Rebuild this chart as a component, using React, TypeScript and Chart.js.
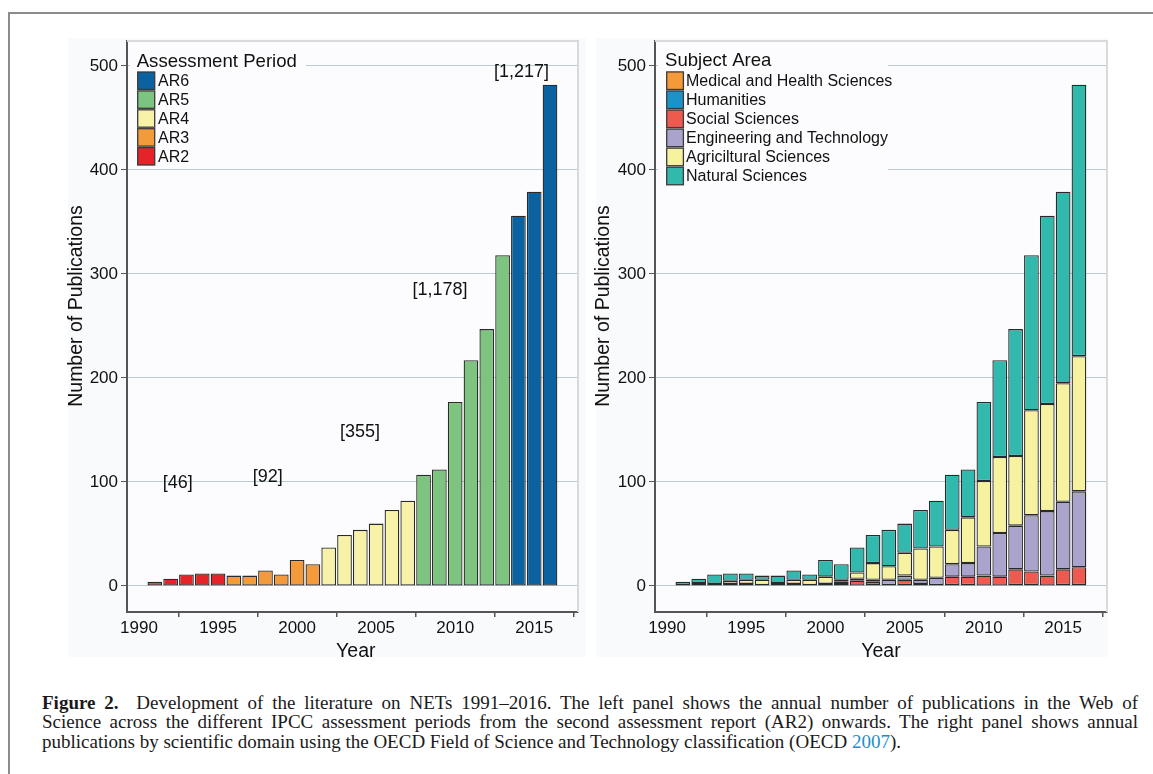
import React, { useEffect, useRef } from 'react';
import { Chart, registerables } from 'chart.js';

Chart.register(...registerables);

// ---------- data ----------
const years = [1991, 1992, 1993, 1994, 1995, 1996, 1997, 1998, 1999, 2000, 2001, 2002, 2003,
  2004, 2005, 2006, 2007, 2008, 2009, 2010, 2011, 2012, 2013, 2014, 2015, 2016];
const totalPublications = [4, 7, 11, 12, 12, 10, 10, 15, 11, 25, 21, 37, 49, 54, 60, 73, 82,
  107, 112, 177, 217, 247, 318, 356, 379, 482];
const periodOfYear = ['AR2', 'AR2', 'AR2', 'AR2', 'AR2', 'AR3', 'AR3', 'AR3', 'AR3', 'AR3', 'AR3',
  'AR4', 'AR4', 'AR4', 'AR4', 'AR4', 'AR4', 'AR5', 'AR5', 'AR5', 'AR5', 'AR5', 'AR5', 'AR6', 'AR6', 'AR6'];
const periodLabels = ['AR2', 'AR3', 'AR4', 'AR5', 'AR6'];
const periodColors = ['#e42428', '#f39a3b', '#f8f2a9', '#7cc47f', '#0a63a0'];
// where the period totals are written (data coordinates: year, publications)
const periodTotalX = [1992.45, 1998.14, 2003.98, 2009.04, 2014.2];
const periodTotalY = [99, 105, 148, 285, 494];

const subjectLabels = ['Medical and Health Sciences', 'Humanities', 'Social Sciences',
  'Engineering and Technology', 'Agriciltural Sciences', 'Natural Sciences'];
const subjectColors = ['#f59a38', '#1b93c9', '#ee5a4f', '#aaa3cc', '#f7f29f', '#31b9ad'];
const medicalHealth = [0, 0, 0, 0, 0, 0, 0, 0, 0, 0, 0, 0, 0, 0, 1, 0, 0, 1, 0, 0, 0, 0, 0, 0, 0, 0];
const humanities = [0, 1, 0, 0, 0, 0, 1, 0, 0, 0, 0, 0, 1, 0, 0, 0, 1, 0, 1, 0, 0, 1, 1, 0, 1, 1];
const socialSciences = [0, 0, 0, 0, 0, 0, 0, 0, 0, 1, 2, 5, 3, 1, 5, 2, 0, 8, 8, 10, 9, 15, 13, 10, 15, 17];
const engineeringTech = [1, 2, 2, 2, 2, 1, 2, 2, 1, 1, 2, 2, 2, 5, 4, 4, 7, 12, 13, 28, 42, 42, 54, 62, 65, 73];
const agricultural = [0, 0, 0, 3, 4, 5, 0, 4, 5, 7, 2, 6, 16, 13, 22, 30, 30, 33, 44, 63, 73, 67, 101, 103, 114, 130];
const natural = [3, 4, 9, 7, 6, 4, 7, 9, 5, 16, 15, 24, 27, 35, 28, 37, 44, 53, 46, 76, 93, 122, 149, 181, 184, 261];
const subjectSeries = [medicalHealth, humanities, socialSciences, engineeringTech, agricultural, natural];

const xTicks = [1990, 1995, 2000, 2005, 2010, 2015];
const yTicks = [0, 100, 200, 300, 400, 500];
const xTitle = 'Year';
const yTitle = 'Number of Publications';
const leftLegendTitle = 'Assessment Period';
const rightLegendTitle = 'Subject Area';

// ---------- styling ----------
const SANS = "'Liberation Sans', Arial, Helvetica, sans-serif";
const PLOT_BG = '#fcfcfe';
const PANEL_BG = '#f9fafc';
const GRID = '#bccad2';
const AXIS = '#555555';
const TEXT = '#111111';
const BAR_BORDER = '#2a2a2a';
const X_MIN = 1989.24;
const X_MAX = 2017.77;
const Y_MIN = -25;
const Y_MAX = 524;

type Decor = {
  legendTitle: string;
  legendItems: { label: string; color: string }[];
  legendBg: [number, number, number, number];
  legendTitlePos: [number, number];
  boxX: number;
  boxW: number;
  rowY0: number;
  rowStep: number;
  labelX: number;
  yTitlePos: [number, number];
  xTitlePos: [number, number];
  annotations?: { text: string; x: number; y: number }[];
};

function makeDecorPlugin(d: Decor) {
  return {
    id: 'panelDecor',
    beforeDraw(chart: any) {
      const { ctx, chartArea: a } = chart;
      ctx.save();
      ctx.fillStyle = PLOT_BG;
      ctx.fillRect(a.left, a.top, a.right - a.left, a.bottom - a.top);
      ctx.restore();
    },
    afterDraw(chart: any) {
      const { ctx, chartArea: a } = chart;
      ctx.save();
      // light top/right frame of plot area
      ctx.strokeStyle = '#d9dadc';
      ctx.lineWidth = 2;
      ctx.beginPath();
      ctx.moveTo(a.left, a.top);
      ctx.lineTo(a.right, a.top);
      ctx.lineTo(a.right, a.bottom);
      ctx.stroke();

      // legend
      const [lx, ly, lw, lh] = d.legendBg;
      ctx.fillStyle = PLOT_BG;
      ctx.fillRect(lx, ly, lw, lh);
      ctx.fillStyle = TEXT;
      ctx.textBaseline = 'middle';
      ctx.textAlign = 'left';
      ctx.font = `18.6px ${SANS}`;
      ctx.fillText(d.legendTitle, d.legendTitlePos[0], d.legendTitlePos[1]);
      ctx.font = `16px ${SANS}`;
      d.legendItems.forEach((it, i) => {
        const y = d.rowY0 + i * d.rowStep;
        const h = d.rowStep - 1.5;
        ctx.fillStyle = it.color;
        ctx.fillRect(d.boxX, y - h / 2, d.boxW, h);
        ctx.strokeStyle = '#3a3a3a';
        ctx.lineWidth = 1.3;
        ctx.strokeRect(d.boxX, y - h / 2, d.boxW, h);
        ctx.fillStyle = TEXT;
        ctx.fillText(it.label, d.labelX, y + 1);
      });

      // annotations
      if (d.annotations) {
        const xs = chart.scales.x;
        const ys = chart.scales.y;
        ctx.font = `18px ${SANS}`;
        ctx.textAlign = 'center';
        ctx.fillStyle = TEXT;
        d.annotations.forEach((an) => {
          ctx.fillText(an.text, xs.getPixelForValue(an.x), ys.getPixelForValue(an.y));
        });
      }

      // axis titles
      ctx.font = `19.5px ${SANS}`;
      ctx.textAlign = 'center';
      ctx.fillStyle = TEXT;
      ctx.fillText(xTitle, d.xTitlePos[0], d.xTitlePos[1]);
      ctx.translate(d.yTitlePos[0], d.yTitlePos[1]);
      ctx.rotate(-Math.PI / 2);
      ctx.fillText(yTitle, 0, 0);
      ctx.restore();
    },
  };
}

function makeScales(yWidth: number, xHeight: number) {
  return {
    x: {
      type: 'linear',
      min: X_MIN,
      max: X_MAX,
      stacked: true,
      offset: false,
      grid: { drawOnChartArea: false, drawTicks: true, tickLength: 5, tickColor: AXIS, lineWidth: 1.5 },
      border: { color: AXIS, width: 2 },
      ticks: {
        color: TEXT,
        font: { size: 17, family: SANS },
        padding: 1,
        maxRotation: 0,
        autoSkip: false,
        callback: (v: number) => String(v),
      },
      afterBuildTicks: (s: any) => {
        s.ticks = xTicks.map((v) => ({ value: v }));
      },
      afterFit: (s: any) => {
        s.height = xHeight;
      },
    },
    y: {
      type: 'linear',
      min: Y_MIN,
      max: Y_MAX,
      stacked: true,
      grid: { color: GRID, lineWidth: 1, tickLength: 6, tickColor: AXIS, drawTicks: true },
      border: { color: AXIS, width: 2 },
      ticks: {
        color: TEXT,
        font: { size: 17, family: SANS },
        padding: 3,
        autoSkip: false,
        callback: (v: number) => String(v),
      },
      afterBuildTicks: (s: any) => {
        s.ticks = yTicks.map((v) => ({ value: v }));
      },
      afterFit: (s: any) => {
        s.width = yWidth;
      },
    },
  };
}

function sumFor(period: string) {
  return totalPublications.reduce((acc, v, i) => (periodOfYear[i] === period ? acc + v : acc), 0);
}

function useChart(ref: React.RefObject<HTMLCanvasElement>, build: () => any) {
  useEffect(() => {
    if (!ref.current) return;
    const chart = new Chart(ref.current, build());
    return () => chart.destroy();
  }, []);
}

const barStyle = {
  borderColor: BAR_BORDER,
  borderWidth: 1.3,
  borderSkipped: false,
  barPercentage: 0.93,
  categoryPercentage: 1,
};

function LeftPanel() {
  const ref = useRef<HTMLCanvasElement>(null);
  useChart(ref, () => {
    const datasets = periodLabels.map((p, k) => ({
      label: p,
      data: years
        .map((yr, i) => (periodOfYear[i] === p ? { x: yr, y: totalPublications[i] } : null))
        .filter((v) => v !== null),
      backgroundColor: periodColors[k],
      ...barStyle,
    }));
    const decor: Decor = {
      legendTitle: leftLegendTitle,
      legendItems: periodLabels.map((p, k) => ({ label: p, color: periodColors[k] })).reverse(),
      legendBg: [110, 29, 176, 116],
      legendTitlePos: [116.7, 41.7],
      boxX: 117.7,
      boxW: 17,
      rowY0: 60.7,
      rowStep: 18.9,
      labelX: 138,
      yTitlePos: [56.5, 286],
      xTitlePos: [335.8, 631.7],
      annotations: periodLabels.map((p, k) => ({
        text: `[${sumFor(p).toLocaleString('en-US')}]`,
        x: periodTotalX[k],
        y: periodTotalY[k],
      })),
    };
    return {
      type: 'bar',
      data: { datasets },
      options: {
        animation: false,
        responsive: false,
        maintainAspectRatio: false,
        devicePixelRatio: 1,
        layout: { padding: { left: 0, top: 21, right: 12, bottom: 0 } },
        plugins: { legend: { display: false }, tooltip: { enabled: false }, title: { display: false } },
        scales: makeScales(107, 58),
      },
      plugins: [makeDecorPlugin(decor)],
    };
  });
  return (
    <canvas
      ref={ref}
      width={570}
      height={650}
      style={{ position: 'absolute', left: 20, top: 20, width: 570, height: 650 }}
    />
  );
}

function RightPanel() {
  const ref = useRef<HTMLCanvasElement>(null);
  useChart(ref, () => {
    const datasets = subjectLabels.map((s, k) => ({
      label: s,
      data: years
        .map((yr, i) => (subjectSeries[k][i] > 0 ? { x: yr, y: subjectSeries[k][i] } : null))
        .filter((v) => v !== null),
      backgroundColor: subjectColors[k],
      ...barStyle,
    }));
    const decor: Decor = {
      legendTitle: rightLegendTitle,
      legendItems: subjectLabels.map((s, k) => ({ label: s, color: subjectColors[k] })),
      legendBg: [68, 29, 230, 137],
      legendTitlePos: [75, 40.7],
      boxX: 76.7,
      boxW: 16.7,
      rowY0: 60.7,
      rowStep: 19.06,
      labelX: 96,
      yTitlePos: [14, 286],
      xTitlePos: [291, 631.7],
    };
    return {
      type: 'bar',
      data: { datasets },
      options: {
        animation: false,
        responsive: false,
        maintainAspectRatio: false,
        devicePixelRatio: 1,
        layout: { padding: { left: 0, top: 21, right: 23, bottom: 0 } },
        plugins: { legend: { display: false }, tooltip: { enabled: false }, title: { display: false } },
        scales: makeScales(65, 58),
      },
      plugins: [makeDecorPlugin(decor)],
    };
  });
  return (
    <canvas
      ref={ref}
      width={540}
      height={650}
      style={{ position: 'absolute', left: 590, top: 20, width: 540, height: 650 }}
    />
  );
}

const captionLines = [
  'Development of the literature on NETs 1991\u20132016. The left panel shows the annual number of publications in the Web of',
  'Science across the different IPCC assessment periods from the second assessment report (AR2) onwards. The right panel shows annual',
  'publications by scientific domain using the OECD Field of Science and Technology classification (OECD ',
];

export default function App() {
  const lineStyle: React.CSSProperties = {
    width: 1096,
    whiteSpace: 'nowrap',
    textAlign: 'justify',
    textAlignLast: 'justify' as any,
    height: 19.3,
    lineHeight: '19.3px',
  };
  return (
    <div
      style={{
        position: 'absolute',
        left: 0,
        top: 0,
        width: 1153,
        height: 774,
        overflow: 'hidden',
        background: '#ffffff',
      }}
    >
      <div
        style={{
          position: 'absolute',
          left: 8,
          top: 12,
          width: 1200,
          height: 800,
          borderLeft: '2px solid #8c8c8c',
          borderTop: '2px solid #8c8c8c',
        }}
      />
      <div style={{ position: 'absolute', left: 68, top: 38, width: 518, height: 619, background: PANEL_BG }} />
      <div style={{ position: 'absolute', left: 596, top: 38, width: 512, height: 619, background: PANEL_BG }} />
      <LeftPanel />
      <RightPanel />
      <div
        style={{
          position: 'absolute',
          left: 42,
          top: 693,
          fontFamily: "'Liberation Serif', 'Times New Roman', serif",
          fontSize: 19,
          color: '#1a1a1a',
        }}
      >
        <div style={lineStyle}>
          <b>Figure 2.</b>&nbsp; {captionLines[0]}
        </div>
        <div style={lineStyle}>{captionLines[1]}</div>
        <div style={{ ...lineStyle, textAlign: 'left', textAlignLast: 'left' as any }}>
          {captionLines[2]}
          <span style={{ color: '#1a8fd0' }}>2007</span>).
        </div>
      </div>
    </div>
  );
}
